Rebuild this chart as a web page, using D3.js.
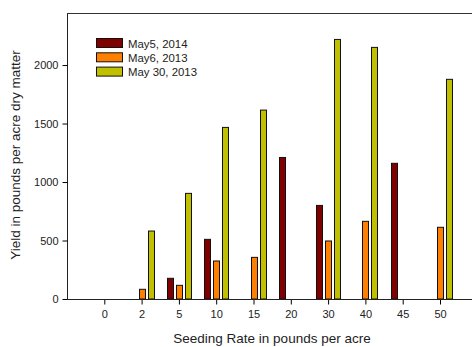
<!DOCTYPE html>
<html>
<head>
<meta charset="utf-8">
<script src="https://cdn.jsdelivr.net/npm/d3@7"></script>
<style>
  body { margin: 0; background: #fff; }
  text { font-family: "Liberation Sans", Arial, sans-serif; fill: #222; }
</style>
</head>
<body>
<svg id="chart" width="472" height="347"></svg>
<script>
// seeding rates (x categories)
const rates = ["0", "2", "5", "10", "15", "20", "30", "40", "45", "50"];
const seriesNames = ["May5, 2014", "May6, 2013", "May 30, 2013"];
const seriesColors = ["#800000", "#ff8000", "#c0c000"];
// yields, null = no bar
const may5_2014  = [null, null, 177, 510, null, 1210, 800, null, 1160, null];
const may6_2013  = [null, 83, 117, 325, 356, null, 496, 664, null, 613];
const may30_2013 = [null, 581, 903, 1467, 1615, null, 2219, 2151, null, 1878];
const yTicks = [0, 500, 1000, 1500, 2000];

const seriesValues = [may5_2014, may6_2013, may30_2013];

const svg = d3.select("#chart");
const plotLeft = 67, plotTop = 13, plotBottom = 299, plotRight = 472;

const y = d3.scaleLinear().domain([0, 2445]).range([plotBottom, plotTop]);
// categories sit one slot in from the left edge, 11 slots wide
const x = d3.scalePoint().domain(rates).range([plotLeft + 37.3, plotLeft + 37.3 * 10]);
const offset = d3.scaleBand().domain(d3.range(3)).range([-13.5, 13.5])
  .paddingInner(1 / 3).paddingOuter(1 / 6);

// frame lines
svg.append("line").attr("x1", plotLeft + 0.5).attr("x2", plotLeft + 0.5)
  .attr("y1", plotTop).attr("y2", plotBottom).attr("stroke", "#222");
svg.append("line").attr("x1", plotLeft).attr("x2", plotRight)
  .attr("y1", plotTop + 0.5).attr("y2", plotTop + 0.5).attr("stroke", "#333");

// bars
seriesValues.forEach(function(vals, s) {
  svg.append("g").selectAll("rect")
    .data(vals.map((v, i) => ({ r: rates[i], v: v })).filter(d => d.v != null))
    .join("rect")
    .attr("x", d => Math.round(x(d.r) + offset(s)) + 0.5)
    .attr("width", offset.bandwidth())
    .attr("y", d => y(d.v))
    .attr("height", d => y(0) - y(d.v))
    .attr("fill", seriesColors[s])
    .attr("stroke", "#111")
    .attr("stroke-width", 1);
});

// axes
const yAxis = svg.append("g").attr("transform", `translate(${plotLeft + 0.5},0)`)
  .call(d3.axisLeft(y).tickValues(yTicks).tickFormat(d3.format("d")).tickSize(5).tickPadding(4));
yAxis.select(".domain").remove();
yAxis.selectAll("text").style("font-size", "11px");

const xAxis = svg.append("g").attr("transform", `translate(0,${plotBottom + 0.5})`)
  .call(d3.axisBottom(x).tickSize(5).tickPadding(6));
xAxis.select(".domain").remove();
xAxis.selectAll("text").style("font-size", "11px");

svg.append("line").attr("x1", plotLeft).attr("x2", plotRight)
  .attr("y1", plotBottom + 0.5).attr("y2", plotBottom + 0.5).attr("stroke", "#222");

// titles
svg.append("text").attr("x", 272).attr("y", 343).attr("text-anchor", "middle")
  .style("font-size", "13.5px").text("Seeding Rate in pounds per acre");
svg.append("text").attr("transform", "translate(20,155) rotate(-90)")
  .attr("text-anchor", "middle").style("font-size", "13.5px")
  .text("Yield in pounds per acre dry matter");

// legend
const legend = svg.append("g").attr("transform", "translate(96,38)");
seriesNames.forEach(function(name, i) {
  const g = legend.append("g").attr("transform", `translate(0,${i * 14.3})`);
  g.append("rect").attr("x", 0.5).attr("y", 0.5).attr("width", 26).attr("height", 9)
    .attr("fill", seriesColors[i]).attr("stroke", "#111");
  g.append("text").attr("x", 32).attr("y", 9.5).style("font-size", "11.4px").text(name);
});
</script>
</body>
</html>
